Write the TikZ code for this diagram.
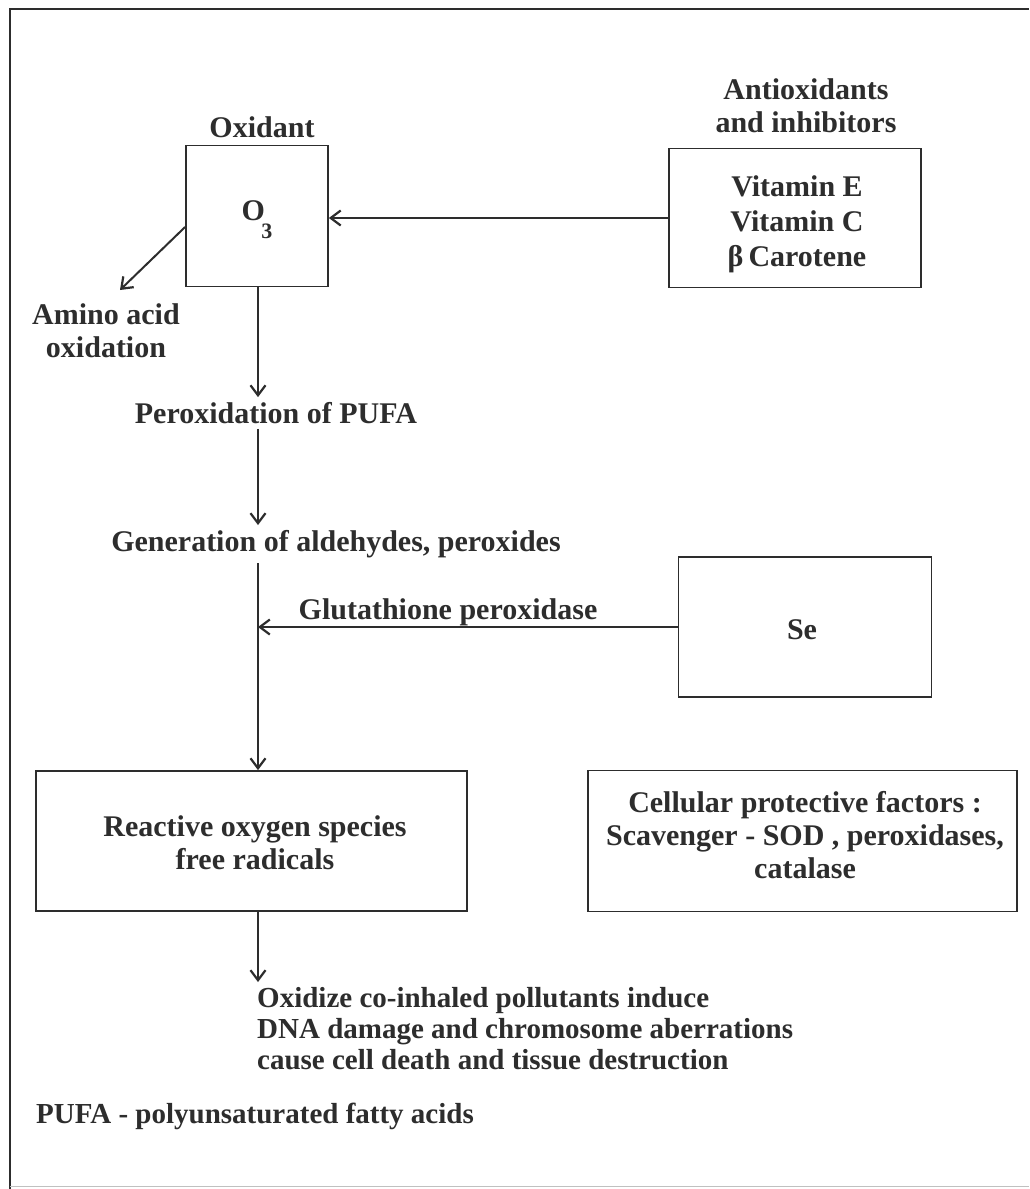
\documentclass[tikz,border=0pt]{standalone}
\usepackage{fontspec}
\setmainfont{Liberation Serif}
\usetikzlibrary{arrows.meta,calc}
\definecolor{ink}{RGB}{45,45,45}
\begin{document}
\begin{tikzpicture}[x=1pt,y=-1pt,
  txt/.style={font=\bfseries\fontsize{30}{33}\selectfont, align=center, inner sep=5pt, text=ink},
  smtxt/.style={txt, font=\bfseries\fontsize{29}{31}\selectfont},
  boxnode/.style={draw=ink, line width=1.8pt, inner sep=0pt},
  ln/.style={draw=ink, line width=2pt},
  arr/.style={ln, -{Straight Barb[length=10pt,width=15pt,line width=2.2pt]}}]
\useasboundingbox (0,0) rectangle (1029,1189);
\fill[white] (0,0) rectangle (1029,1189);
% outer frame
\draw[ln, line width=1.4pt] (10,1189) -- (10,9) -- (1029,9);
\draw[draw=ink!30, line width=1pt] (10,1186) -- (1029,1186);

% boxes
\node[boxnode, minimum width=142pt, minimum height=141pt] (o3box) at (257,216) {};
\node[boxnode, minimum width=252pt, minimum height=139pt] (vitbox) at (795,218) {};
\node[boxnode, minimum width=253pt, minimum height=140pt] (sebox) at (805,627) {};
\node[boxnode, minimum width=431pt, minimum height=140pt] (rosbox) at (251.5,841) {};
\node[boxnode, minimum width=429pt, minimum height=141pt] (cellbox) at (802.5,841) {};

% texts
\node[txt] (oxlabel) at (262,127) {Oxidant};
\node[txt] (antilabel) at (806,106) {Antioxidants\\and inhibitors};
\node[txt] (o3txt) at (257,220) {O\kern-0.12em\raisebox{-0.6em}{\fontsize{22}{22}\selectfont 3}};
\node[txt, font=\bfseries\fontsize{30}{35}\selectfont] (vittxt) at (797,224) {Vitamin E\\Vitamin C\\β\,Carotene};
\node[txt] (amino) at (106,331) {Amino acid\\oxidation};
\node[txt] (perox) at (276,413) {Peroxidation of PUFA};
\node[txt] (gen) at (336,544) {Generation of aldehydes, peroxides};
\node[txt] (glut) at (448,612) {Glutathione peroxidase};
\node[txt] (setxt) at (802,630) {Se};
\node[txt] (rostxt) at (255,843) {Reactive oxygen species\\free radicals};
\node[txt] (celltxt) at (805,835) {Cellular protective factors :\\Scavenger - SOD , peroxidases,\\catalase};
\node[smtxt, align=left, anchor=north west] (oxid) at (252,982) {Oxidize co-inhaled pollutants induce\\DNA damage and chromosome aberrations\\cause cell death and tissue destruction};
\node[smtxt, align=left, anchor=west] (pufa) at (31,1116) {PUFA - polyunsaturated fatty acids};

% spine
\coordinate (spine) at (258,0);
\coordinate (aminotip) at (120,290);

% connectors
\draw[arr] (vitbox.west) -- (vitbox.west -| o3box.east);
\draw[arr] ($(o3box.west)+(0,11)$) -- (aminotip);
\draw[arr] (spine |- o3box.south) -- (spine |- perox.north);
\draw[arr] (spine |- perox.south) -- (spine |- gen.north);
\draw[arr] (spine |- gen.south) -- (spine |- rosbox.north);
\draw[arr] (sebox.west) -- (spine |- sebox.west);
\draw[arr] (spine |- rosbox.south) -- (spine |- oxid.north);
\end{tikzpicture}
\end{document}
